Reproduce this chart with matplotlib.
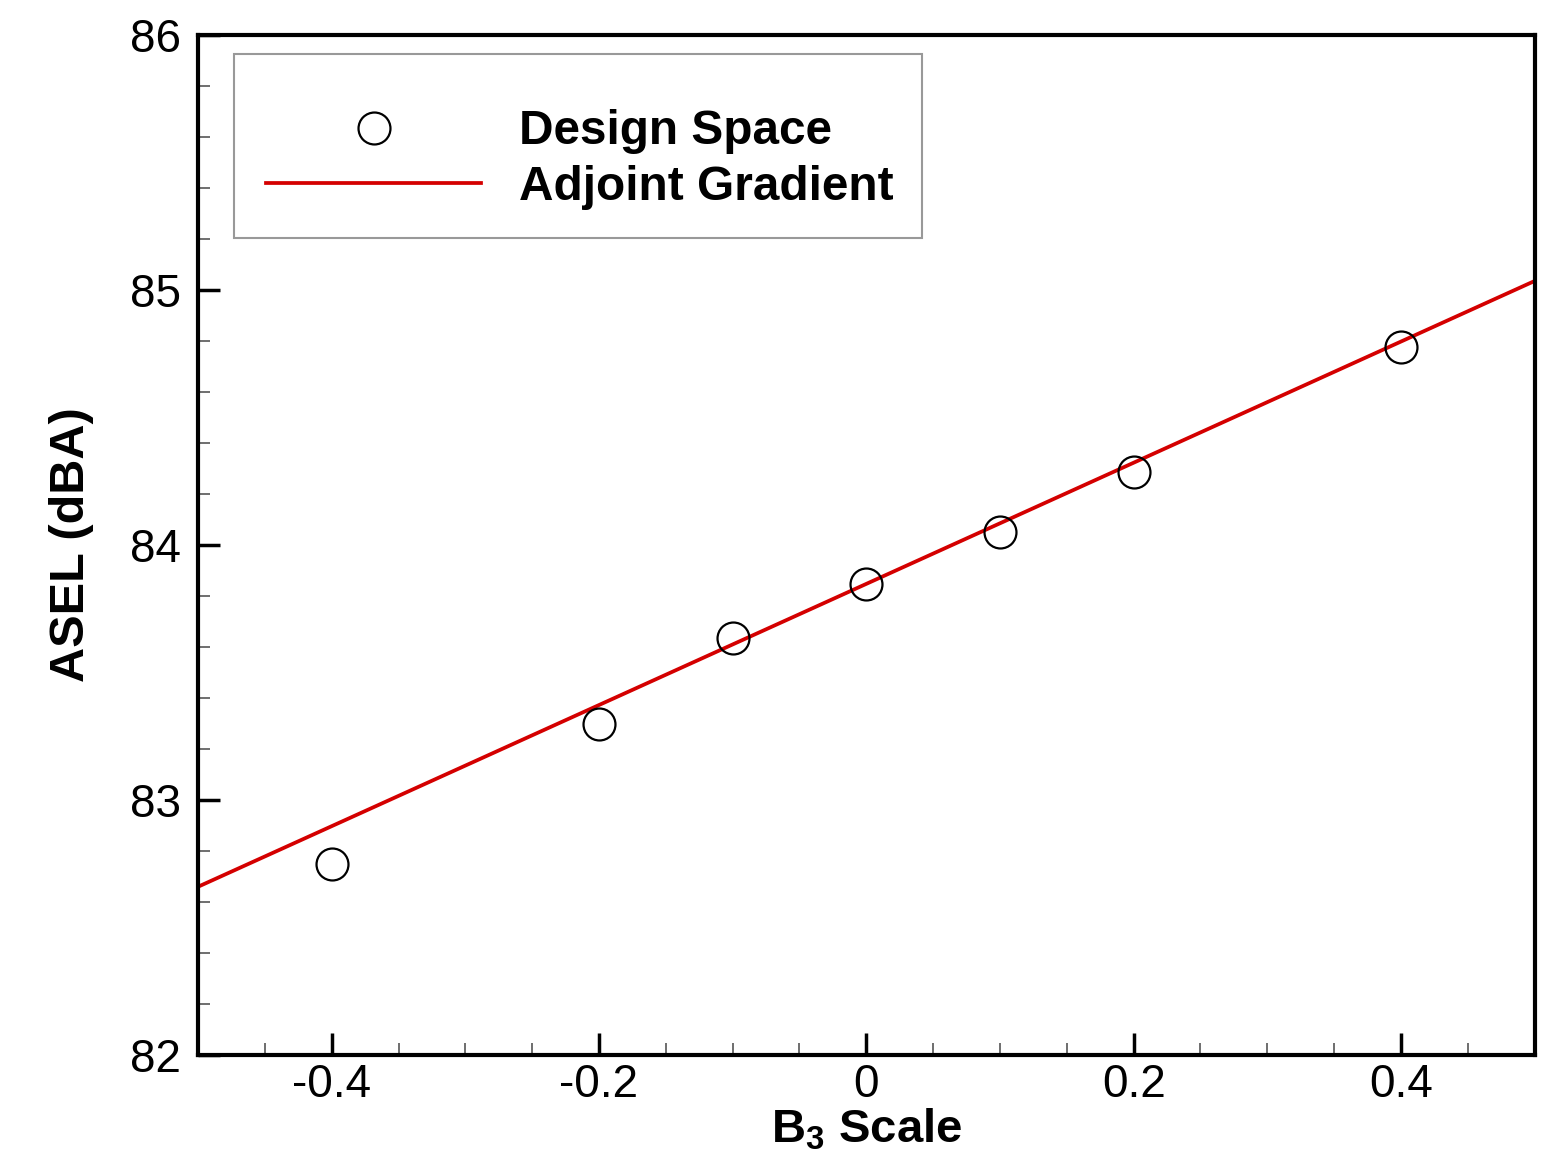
import matplotlib
matplotlib.use('Agg')
import matplotlib.pyplot as plt
from matplotlib.patches import Rectangle
from matplotlib.ticker import MultipleLocator

plt.rcParams['font.family'] = ['Liberation Sans', 'DejaVu Sans']
plt.rcParams['mathtext.fontset'] = 'custom'
plt.rcParams['mathtext.rm'] = 'Liberation Sans'
plt.rcParams['mathtext.bf'] = 'Liberation Sans:bold'

# design space samples
b3_scale = [-0.4, -0.2, -0.1, 0.0, 0.1, 0.2, 0.4]
asel = [82.75, 83.30, 83.635, 83.847, 84.05, 84.286, 84.776]

# adjoint gradient line (end points read at the axis edges)
grad_x = [-0.5, 0.5]
grad_y = [82.66, 85.035]

fig = plt.figure(figsize=(15.47, 11.62), dpi=100)
ax = fig.add_axes([0.128, 0.092, 0.864, 0.878])

ax.plot(b3_scale, asel, 'o', ls='none', ms=23, mfc='none', mec='black', mew=1.6,
        label='Design Space', zorder=3)
ax.plot(grad_x, grad_y, color='#d40000', lw=2.7, label='Adjoint Gradient', zorder=2)

ax.set_xlim(-0.5, 0.5)
ax.set_ylim(82, 86)
ax.xaxis.set_major_locator(MultipleLocator(0.2))
ax.xaxis.set_minor_locator(MultipleLocator(0.05))
ax.yaxis.set_major_locator(MultipleLocator(1))
ax.yaxis.set_minor_locator(MultipleLocator(0.2))
ax.set_xticks([-0.4, -0.2, 0, 0.2, 0.4])
ax.set_xticklabels(['-0.4', '-0.2', '0', '0.2', '0.4'])

for s in ax.spines.values():
    s.set_linewidth(3)
ax.tick_params(which='major', direction='in', length=16, width=2.5, labelsize=33, pad=12)
ax.tick_params(which='minor', direction='in', length=8.5, width=1.2, color='#555555')
ax.tick_params(axis='x', which='major', pad=6)

ax.set_xlabel(r'$\mathbf{B_3}$ Scale', fontsize=34, fontweight='bold', labelpad=0)
ax.set_ylabel('ASEL (dBA)', fontsize=35, fontweight='bold', labelpad=26)

# legend box
box = Rectangle((0.0269, 0.801), 0.5146, 0.1804, transform=ax.transAxes,
                facecolor='white', edgecolor='#999999', lw=1.5, zorder=4)
ax.add_patch(box)
leg = ax.legend(loc='upper left', bbox_to_anchor=(0.0509, 0.927), frameon=False,
                handlelength=4.5, handletextpad=0.8, borderpad=0, labelspacing=0.22,
                borderaxespad=0, prop={'size': 34.4, 'weight': 'bold'})
leg.set_zorder(5)

fig.savefig('out.png', dpi=100)
